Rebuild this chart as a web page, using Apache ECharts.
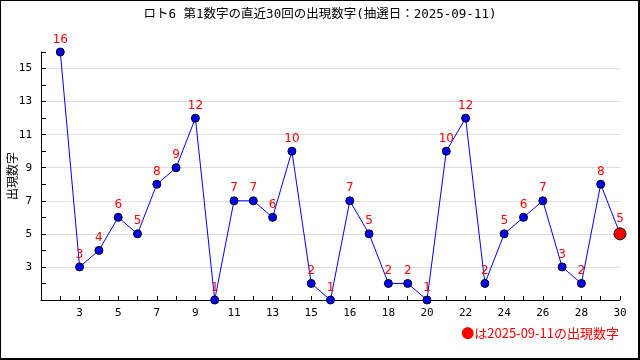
<!DOCTYPE html>
<html>
<head>
<meta charset="utf-8">
<script src="https://cdn.jsdelivr.net/npm/echarts@6/dist/echarts.min.js"></script>
<style>
html,body{margin:0;padding:0;background:#fff;}
#wrap{position:relative;width:640px;height:360px;}
#chart{position:absolute;left:0;top:0;width:640px;height:360px;}
#frame{position:absolute;left:0;top:0;width:640px;height:360px;box-sizing:border-box;border-left:1px solid #000;border-top:1px solid #000;border-right:2px solid #000;border-bottom:2px solid #000;pointer-events:none;}
</style>
</head>
<body>
<div id="wrap"><div id="chart"></div><div id="frame"></div></div>
<script>
// Title and texts
const titleText = 'ロト6 第1数字の直近30回の出現数字(抽選日：2025-09-11)';
const yName = '出現数字';
const noteText = '●は2025-09-11の出現数字';

// x slots (31 positions on the axis) and their tick labels as shown
const slots = ['1','2','3','4','5','6','7','8','9','10','11','12','13','14','15','16','17','18','19','20','21','22','23','24','25','26','27','28','29','30','31'];
const xTickLabels = ['', '', '3', '', '5', '', '7', '', '9', '', '11', '', '13', '', '15', '', '16', '', '18', '', '20', '', '22', '', '24', '', '26', '', '28', '', '30'];

// drawn numbers for the last 30 draws (oldest first); placed on slots 2..31
const values = [16, 3, 4, 6, 5, 8, 9, 12, 1, 7, 7, 6, 10, 2, 1, 7, 5, 2, 2, 1, 10, 12, 2, 5, 6, 7, 3, 2, 8, 5];
const firstSlot = 1;

// y tick labels shown
const yTickLabels = [3, 5, 7, 9, 11, 13, 15];

const monoFont = "'DejaVu Sans Mono','Noto Sans CJK JP',monospace";
const cjkFont = "'Noto Sans CJK JP','DejaVu Sans Mono',sans-serif";

const seriesData = values.map((v, i) => {
  const item = { value: [firstSlot + i, v] };
  if (i === values.length - 1) {
    item.symbolSize = 12;
    item.itemStyle = { color: '#ff0000', borderColor: '#000', borderWidth: 1 };
  }
  return item;
});

const chart = echarts.init(document.getElementById('chart'), null, { renderer: 'canvas' });
chart.setOption({
  backgroundColor: 'transparent',
  animation: false,
  title: {
    text: titleText,
    left: 'center',
    top: 3,
    textStyle: { fontFamily: monoFont, fontSize: 12.5, fontWeight: 'normal', color: '#000' }
  },
  grid: { left: 41, right: 20, top: 52, bottom: 60, containLabel: false, outerBoundsMode: 'none' },
  xAxis: {
    type: 'category',
    data: slots,
    boundaryGap: false,
    axisLine: { lineStyle: { color: '#000', width: 1 } },
    axisTick: { show: true, inside: true, length: 4, interval: 0, lineStyle: { color: '#000' } },
    axisLabel: {
      interval: 0,
      margin: 8,
      color: '#000',
      fontFamily: monoFont,
      fontSize: 11,
      formatter: (val, idx) => xTickLabels[idx]
    },
    splitLine: { show: false }
  },
  yAxis: {
    type: 'value',
    min: 1,
    max: 16,
    interval: 1,
    name: yName,
    nameLocation: 'middle',
    nameRotate: 90,
    nameGap: 23,
    nameMoveOverlap: false,
    nameTextStyle: { fontFamily: cjkFont, fontSize: 12, color: '#000' },
    axisLine: { show: true, lineStyle: { color: '#000', width: 1 } },
    axisTick: { show: true, inside: true, length: 5, lineStyle: { color: '#000' } },
    axisLabel: {
      margin: 9,
      color: '#000',
      fontFamily: monoFont,
      fontSize: 11,
      formatter: (v) => (yTickLabels.indexOf(v) >= 0 ? String(v) : '')
    },
    splitLine: { show: true, lineStyle: { color: ['#dddddd', 'rgba(0,0,0,0)'], width: 1 } }
  },
  graphic: [{
    type: 'text',
    right: 21,
    top: 327,
    style: { text: noteText, fill: '#ff0000', font: "13px " + cjkFont }
  }],
  series: [{
    type: 'line',
    data: seriesData,
    symbol: 'circle',
    symbolSize: 8,
    lineStyle: { color: '#0000ff', width: 1 },
    itemStyle: { color: '#0000ff', borderColor: '#000', borderWidth: 1 },
    label: {
      show: true,
      position: 'top',
      distance: 2,
      color: '#ff0000',
      fontFamily: "'DejaVu Sans',sans-serif",
      fontSize: 12,
      formatter: (p) => String(p.value[1])
    },
    z: 3
  }]
});
</script>
</body>
</html>
